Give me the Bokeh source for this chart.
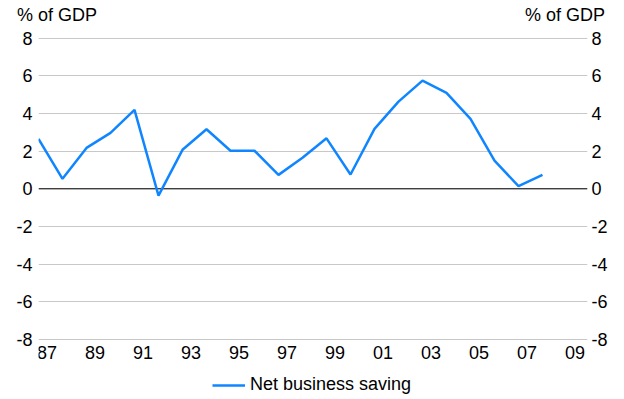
from bokeh.plotting import figure
from bokeh.models import (Range1d, FixedTicker, CustomJSTickFormatter, LinearAxis,
                          Legend, LegendItem, Span)
from bokeh.embed import file_html
from bokeh.resources import INLINE

# ---- data ----
years = [1987, 1988, 1989, 1990, 1991, 1992, 1993, 1994, 1995, 1996, 1997,
         1998, 1999, 2000, 2001, 2002, 2003, 2004, 2005, 2006, 2007, 2008]
net_business_saving = [2.65, 0.53, 2.17, 2.97, 4.19, -0.36, 2.07, 3.16, 2.02, 2.02, 0.74,
                       1.65, 2.68, 0.76, 3.18, 4.63, 5.74, 5.09, 3.71, 1.50, 0.14, 0.74]
tick_labels = ["87", "89", "91", "93", "95", "97", "99", "01", "03", "05", "07", "09"]
tick_years = [1987, 1989, 1991, 1993, 1995, 1997, 1999, 2001, 2003, 2005, 2007, 2009]
y_ticks = [-8, -6, -4, -2, 0, 2, 4, 6, 8]
series_name = "Net business saving"
unit_label = "% of GDP"

FONT = "Liberation Sans"
FS = "18px"
LINE_COLOR = "#0f86ff"
LABEL_SHIFT = 0.35             # year labels sit a bit right of the yearly points
UNIT_POS = [1987.77, 2008.94]  # x centres of the two unit captions above the plot

# frame runs down to the canvas bottom so the legend can sit under the year labels
p = figure(width=624, height=399, output_backend="svg", toolbar_location=None,
           x_range=Range1d(1987, 2009.875), y_range=Range1d(-11.18, 8.03),
           min_border_left=38, min_border_right=37, min_border_top=37, min_border_bottom=0)
p.outline_line_color = None
p.background_fill_color = "white"
p.border_fill_color = "white"

bottom_axis = p.xaxis[0]
left_axis = p.yaxis[0]

xtick_pos = [y + LABEL_SHIFT for y in tick_years]
bottom_axis.ticker = FixedTicker(ticks=xtick_pos)
bottom_axis.formatter = CustomJSTickFormatter(
    args=dict(labels=tick_labels, first=xtick_pos[0]),
    code="return labels[Math.round((tick - first) / 2)];")
bottom_axis.fixed_location = y_ticks[0]

yticker = FixedTicker(ticks=y_ticks)
yformatter = CustomJSTickFormatter(code="return String(tick);")
left_axis.ticker = yticker
left_axis.formatter = yformatter
right_axis = LinearAxis(ticker=yticker, formatter=yformatter)
p.add_layout(right_axis, "right")

# unit captions ("% of GDP") over both value axes
top_axis = LinearAxis(ticker=FixedTicker(ticks=UNIT_POS),
                      formatter=CustomJSTickFormatter(args=dict(txt=unit_label),
                                                      code="return txt;"))
p.add_layout(top_axis, "above")

for ax in [bottom_axis, left_axis, right_axis, top_axis]:
    ax.axis_line_color = None
    ax.major_tick_line_color = None
    ax.minor_tick_line_color = None
    ax.major_tick_out = 0
    ax.major_tick_in = 0
    ax.minor_tick_out = 0
    ax.minor_tick_in = 0
    ax.major_label_text_font = FONT
    ax.major_label_text_font_size = FS
    ax.major_label_text_color = "black"
bottom_axis.major_label_standoff = 6
left_axis.major_label_standoff = 6
right_axis.major_label_standoff = 4
top_axis.major_label_standoff = 13

p.xgrid.visible = False
p.ygrid.ticker = yticker
p.ygrid.grid_line_color = "#c8c8c8"
p.ygrid.grid_line_width = 1

p.add_layout(Span(location=0, dimension="width", line_color="black", line_width=1,
                  level="underlay"))

r = p.line(years, net_business_saving, line_color=LINE_COLOR, line_width=2.5)

legend = Legend(items=[LegendItem(label=series_name, renderers=[r])],
                location=(174, 4), orientation="horizontal",
                label_text_font=FONT, label_text_font_size=FS, label_text_color="black",
                glyph_width=33, glyph_height=20, label_height=20,
                label_standoff=5, padding=0, margin=0,
                border_line_color=None, background_fill_alpha=0)
p.add_layout(legend, "center")

open("out.html", "w").write(file_html(p, INLINE))
